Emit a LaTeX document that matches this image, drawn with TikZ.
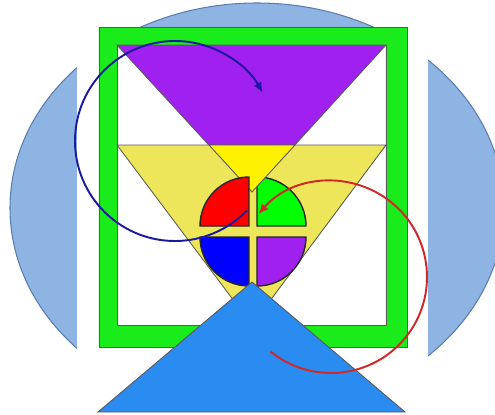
\documentclass[tikz,border=0pt]{standalone}
\usepackage{xcolor}
\usepackage{tikz}
\usetikzlibrary{arrows.meta}

\definecolor{ovalblue}{HTML}{8EB4E3}
\definecolor{ovalline}{HTML}{5A7DAE}
\definecolor{framegreen}{HTML}{1AEB1A}
\definecolor{cuppurple}{HTML}{A020F0}
\definecolor{paleyellow}{HTML}{EDE65A}
\definecolor{hillblue}{HTML}{2A8BF0}
\definecolor{loopblue}{HTML}{1A1AA0}
\definecolor{loopred}{HTML}{D02828}

\begin{document}
\begin{tikzpicture}[x=0.02cm,y=0.02cm,
  outl/.style={draw=black!65, line width=0.5pt},
  piece/.style={draw=black!85, line width=0.8pt},
  loop/.style={line width=1.1pt, -{Latex[length=2mm,width=1.8mm]}}]
\clip (0,0) rectangle (495,414);
\fill[white] (0,0) rectangle (495,414);
\draw[fill=ovalblue, draw=ovalline, line width=0.6pt] (257,206) ellipse [x radius=247, y radius=205];
\fill[white] (77,0) rectangle (428,387);
\draw[outl, fill=framegreen, even odd rule] (99,67) rectangle (407,387) (117,89) rectangle (386,369);
\draw[outl, fill=cuppurple] (117,369) -- (386,369) -- (252,222) -- cycle;
\draw[outl, fill=paleyellow] (117,269) -- (386,269) -- (252,89) -- cycle;
\draw[piece, fill=green] (257,188) -- (306,188) arc[start angle=0, end angle=90, radius=49] -- cycle;
\draw[outl, fill=yellow] (209,269) -- (295,269) -- (252,222) -- cycle;
\draw[piece, fill=red] (249,188) -- (249,237) arc[start angle=90, end angle=180, radius=49] -- cycle;
\draw[piece, fill=blue] (249,177) -- (200,177) arc[start angle=180, end angle=270, radius=49] -- cycle;
\draw[piece, fill=cuppurple] (257,177) -- (257,128) arc[start angle=270, end angle=360, radius=49] -- cycle;
\draw[outl, fill=hillblue] (98,2) -- (405,2) -- (252,132) -- cycle;
\draw[loop, loopblue] ([shift={(-44:100)}]175,273) arc[start angle=-44, end angle=-331, radius=100];
\draw[loop, loopred] ([shift={(231:96)}]331,137) arc[start angle=231, end angle=499, radius=96];
\end{tikzpicture}
\end{document}
